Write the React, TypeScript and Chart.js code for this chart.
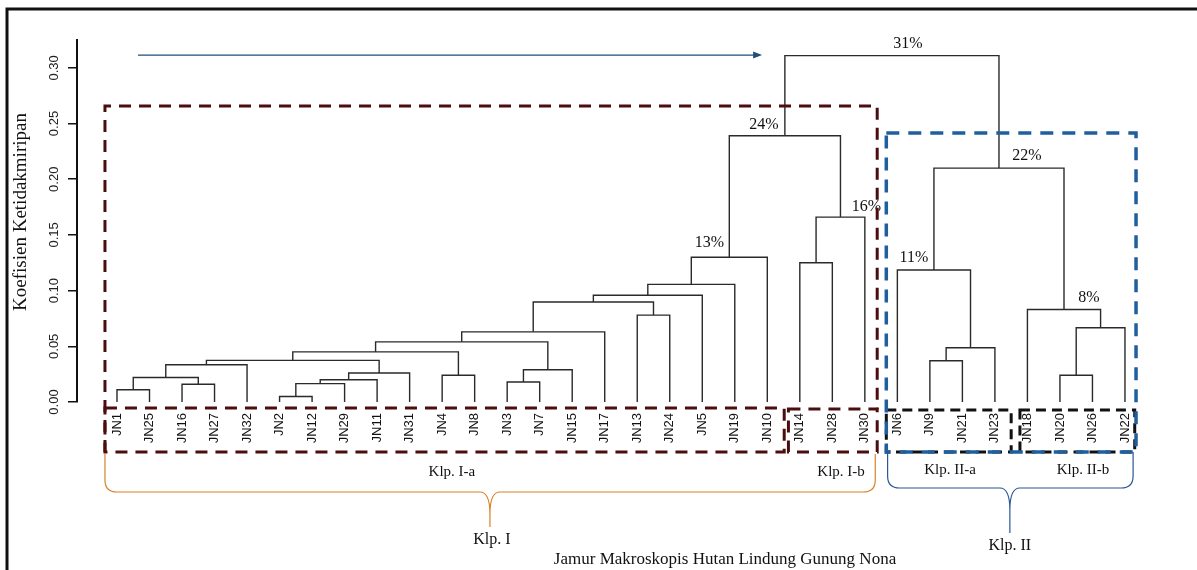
import React, { useEffect, useRef } from 'react';
import { Chart, registerables } from 'chart.js';
Chart.register(...registerables);

// ---- data ----
const leafLabels = ['JN1','JN25','JN16','JN27','JN32','JN2','JN12','JN29','JN11','JN31','JN4','JN8','JN3','JN7','JN15','JN17','JN13','JN24','JN5','JN19','JN10','JN14','JN28','JN30','JN6','JN9','JN21','JN23','JN18','JN20','JN26','JN22'];

const mergeLeft = ['JN2','JN1','JN16','m1','JN3','m4','m2','JN4','JN20','m6','m5','m7','JN9','m12','m14','m13','m15','m17','m9','JN13','JN18','m18','m22','m23','JN6','JN14','m24','m26','m25','m27','m30'];
const mergeRight = ['JN12','JN25','JN27','JN29','JN7','JN11','m3','JN8','JN26','JN31','JN15','JN32','JN21','m10','m8','JN23','m11','JN17','JN22','JN24','m19','m20','JN5','JN19','m16','JN28','JN10','JN30','m21','m28','m29'];
const mergeHeights = [0.005,0.011,0.016,0.0165,0.018,0.020,0.022,0.024,0.024,0.026,0.029,0.0335,0.037,0.0374,0.045,0.0487,0.054,0.063,0.0667,0.078,0.083,0.0898,0.0958,0.1056,0.1185,0.125,0.130,0.166,0.210,0.239,0.311];

const pctMerges = ['m31','m30','m28','m27','m29','m25','m21'];
const pctTexts = ['31%','24%','16%','13%','22%','11%','8%'];

const yTicks = [0, 0.05, 0.10, 0.15, 0.20, 0.25, 0.30];

const yTitle = 'Koefisien Ketidakmiripan';
const xTitle = 'Jamur Makroskopis Hutan Lindung Gunung Nona';
const groupLabels = ['Klp. I-a', 'Klp. I-b', 'Klp. II-a', 'Klp. II-b'];
const clusterLabels = ['Klp. I', 'Klp. II'];

// ---- style (offsets in px) ----
const pctOffsets = [[16,-12],[-21,-11],[26,-10],[-20,-14],[28,-12],[-20,-12],[25,-12]];
const SERIF = '"Liberation Serif", "Times New Roman", serif';
const SANS = '"Liberation Sans", Arial, sans-serif';

type Node = { x: number; h: number };

function buildNodes(): Record<string, Node> {
  const pos: Record<string, Node> = {};
  leafLabels.forEach((l, i) => { pos[l] = { x: i, h: 0 }; });
  mergeHeights.forEach((h, k) => {
    const a = pos[mergeLeft[k]];
    const b = pos[mergeRight[k]];
    pos['m' + (k + 1)] = { x: (a.x + b.x) / 2, h };
  });
  return pos;
}

const decoPlugin = {
  id: 'deco',
  afterDraw(chart: any) {
    const ctx: CanvasRenderingContext2D = chart.ctx;
    const xs = chart.scales.x;
    const ys = chart.scales.y;
    const X = (u: number) => xs.getPixelForValue(u);
    const Y = (v: number) => ys.getPixelForValue(v);
    const base = chart.chartArea.bottom;
    const nodes = buildNodes();

    ctx.save();
    // outer frame (top + left)
    ctx.strokeStyle = '#111';
    ctx.lineWidth = 3;
    ctx.setLineDash([]);
    ctx.beginPath();
    ctx.moveTo(7, 570); ctx.lineTo(7, 9); ctx.lineTo(1197, 9);
    ctx.stroke();

    // y tick labels (rotated)
    ctx.fillStyle = '#222';
    ctx.font = `13px ${SANS}`;
    ctx.textAlign = 'center';
    ctx.textBaseline = 'middle';
    yTicks.forEach((v) => {
      ctx.save();
      ctx.translate(54, Y(v));
      ctx.rotate(-Math.PI / 2);
      ctx.fillText(v.toFixed(2), 0, 0);
      ctx.restore();
    });

    // y title
    ctx.save();
    ctx.translate(21, 212);
    ctx.rotate(-Math.PI / 2);
    ctx.font = `19px ${SERIF}`;
    ctx.fillStyle = '#111';
    ctx.fillText(yTitle, 0, 0);
    ctx.restore();

    // arrow
    const ay = Y(0.3115);
    const ax1 = X(0.646), ax2 = X(19.84);
    ctx.strokeStyle = '#1f4e79';
    ctx.fillStyle = '#1f4e79';
    ctx.lineWidth = 1.2;
    ctx.beginPath(); ctx.moveTo(ax1, ay); ctx.lineTo(ax2 - 6, ay); ctx.stroke();
    ctx.beginPath(); ctx.moveTo(ax2, ay); ctx.lineTo(ax2 - 9, ay - 3.5); ctx.lineTo(ax2 - 9, ay + 3.5); ctx.closePath(); ctx.fill();

    // percent labels
    ctx.font = `16px ${SERIF}`;
    ctx.fillStyle = '#111';
    ctx.textAlign = 'center';
    ctx.textBaseline = 'middle';
    pctMerges.forEach((m, i) => {
      const n = nodes[m];
      ctx.fillText(pctTexts[i], X(n.x) + pctOffsets[i][0], Y(n.h) + pctOffsets[i][1]);
    });

    // dashed boxes
    const rect = (x1: number, y1: number, x2: number, y2: number) => {
      ctx.beginPath(); ctx.rect(x1, y1, x2 - x1, y2 - y1); ctx.stroke();
    };
    // maroon big box
    ctx.strokeStyle = '#4a0e0e';
    ctx.lineWidth = 3;
    ctx.setLineDash([12, 8]);
    const mTop = Y(0.2657), mL = X(-0.37), mR = X(23.38);
    ctx.beginPath();
    ctx.moveTo(mL, base + 50); ctx.lineTo(mL, mTop); ctx.lineTo(mR, mTop); ctx.lineTo(mR, base + 7);
    ctx.stroke();
    rect(mL, base + 6, X(20.52), base + 50);
    rect(X(20.65), base + 7, mR, base + 50);

    // black boxes
    ctx.strokeStyle = '#111';
    ctx.setLineDash([10, 6]);
    rect(X(23.66), base + 8, X(27.5), base + 50);
    rect(X(27.77), base + 8, X(31.3), base + 50);

    // blue box
    ctx.strokeStyle = '#1f5f9e';
    ctx.lineWidth = 3.5;
    ctx.setLineDash([13, 9]);
    rect(X(23.66), Y(0.2415), X(31.34), base + 50);

    ctx.setLineDash([]);

    // braces
    const brace = (x1: number, x2: number, yTop: number, yH: number, xm: number, tip: number, color: string) => {
      ctx.strokeStyle = color;
      ctx.lineWidth = 1.2;
      ctx.beginPath();
      ctx.moveTo(x1, yTop);
      ctx.lineTo(x1, yH - 12);
      ctx.quadraticCurveTo(x1, yH, x1 + 12, yH);
      ctx.lineTo(xm - 10, yH);
      ctx.quadraticCurveTo(xm, yH, xm, yH + 22);
      ctx.lineTo(xm, tip);
      ctx.moveTo(x2, yTop);
      ctx.lineTo(x2, yH - 12);
      ctx.quadraticCurveTo(x2, yH, x2 - 12, yH);
      ctx.lineTo(xm + 10, yH);
      ctx.quadraticCurveTo(xm, yH, xm, yH + 22);
      ctx.stroke();
    };
    brace(X(-0.37), X(23.32), base + 52, base + 90, X(11.47), base + 125, '#d9822b');
    brace(X(23.7), X(31.25), base + 50, base + 86, X(27.46), base + 131, '#2b5797');

    // group labels
    ctx.fillStyle = '#111';
    ctx.font = `15px ${SERIF}`;
    ctx.textAlign = 'center';
    ctx.textBaseline = 'middle';
    ctx.fillText(groupLabels[0], X(10.3), base + 70);
    ctx.fillText(groupLabels[1], X(22.27), base + 70);
    ctx.fillText(groupLabels[2], X(25.62), base + 68);
    ctx.fillText(groupLabels[3], X(29.71), base + 68);
    ctx.font = `16px ${SERIF}`;
    ctx.fillText(clusterLabels[0], X(11.53), base + 138);
    ctx.fillText(clusterLabels[1], X(27.46), base + 144);
    ctx.font = `17px ${SERIF}`;
    ctx.fillText(xTitle, X(18.7), base + 158);

    ctx.restore();
  },
};

export default function App() {
  const ref = useRef<HTMLCanvasElement | null>(null);
  useEffect(() => {
    if (!ref.current) return;
    const nodes = buildNodes();
    const datasets = mergeHeights.map((h, k) => {
      const a = nodes[mergeLeft[k]];
      const b = nodes[mergeRight[k]];
      return {
        type: 'line' as const,
        data: [{ x: a.x, y: a.h }, { x: a.x, y: h }, { x: b.x, y: h }, { x: b.x, y: b.h }],
        borderColor: '#2a2a2a',
        borderWidth: 1.4,
        pointRadius: 0,
        tension: 0,
        fill: false,
      };
    });
    const chart = new Chart(ref.current, {
      type: 'line',
      data: { datasets },
      options: {
        animation: false,
        responsive: false,
        maintainAspectRatio: false,
        layout: { padding: { top: 40, right: 7, left: 0, bottom: 0 } },
        plugins: { legend: { display: false }, tooltip: { enabled: false } },
        scales: {
          x: {
            type: 'linear',
            min: -1.23,
            max: 33,
            grid: { display: false, drawTicks: false },
            border: { display: false },
            afterBuildTicks: (axis: any) => { axis.ticks = leafLabels.map((_, i) => ({ value: i })); },
            afterFit: (scale: any) => { scale.height = 168; },
            ticks: {
              autoSkip: false,
              minRotation: 90,
              maxRotation: 90,
              padding: 11,
              color: '#111',
              font: { family: SANS, size: 13 },
              callback: (v: any) => leafLabels[v] ?? '',
            },
          },
          y: {
            type: 'linear',
            min: 0,
            max: 0.325,
            afterFit: (scale: any) => { scale.width = 77; },
            grid: { display: true, drawOnChartArea: false, drawTicks: true, tickLength: 9, color: '#111', lineWidth: 1.5 },
            border: { display: true, color: '#111', width: 2 },
            ticks: { stepSize: 0.05, includeBounds: false, display: false },
          },
        },
      },
      plugins: [decoPlugin],
    });
    return () => chart.destroy();
  }, []);
  return (
    <div style={{ position: 'absolute', left: 0, top: 0, width: 1197, height: 570, background: '#fff' }}>
      <canvas ref={ref} width={1197} height={570} style={{ display: 'block' }} />
    </div>
  );
}
